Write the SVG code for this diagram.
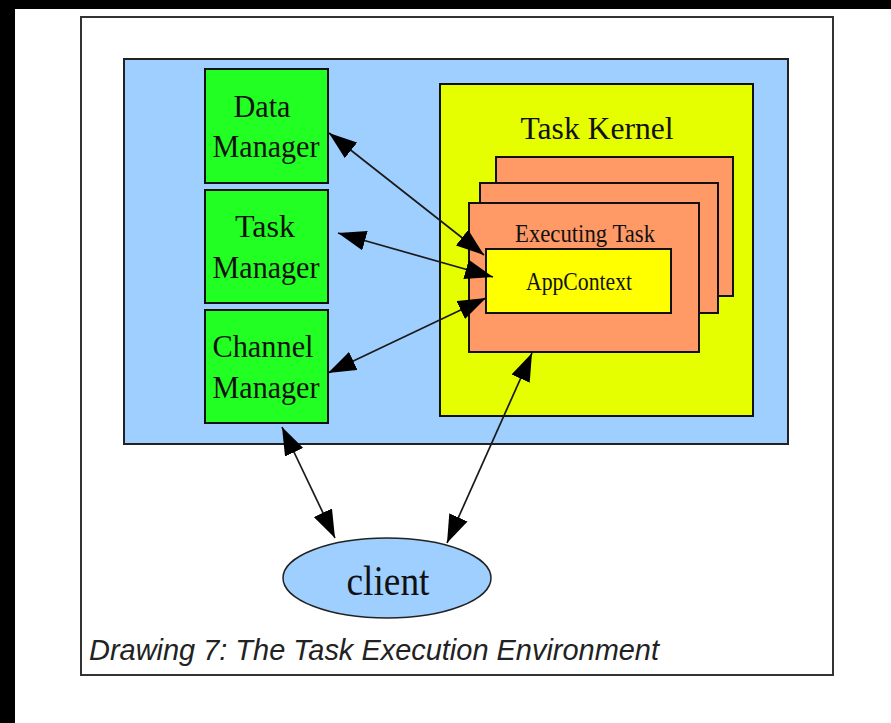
<svg xmlns="http://www.w3.org/2000/svg" width="891" height="723" viewBox="0 0 891 723">
  <style>
    .lbl { font-family: "Liberation Serif", "Times New Roman", serif; fill: #111; text-anchor: middle; }
    .box { stroke: #111; stroke-width: 2; }
    .mgr { fill: #22ff22; }
    .card { fill: #ff9966; }
    .link { stroke: #1a1a1a; stroke-width: 1.7; fill: none; marker-start: url(#head); marker-end: url(#head); }
  </style>
  <defs>
    <marker id="head" markerUnits="userSpaceOnUse" markerWidth="28" markerHeight="20" viewBox="0 0 28 20" refX="28" refY="10" orient="auto-start-reverse">
      <path d="M0,0 L28,10 L0,20 Z" fill="#000"/>
    </marker>
  </defs>

  <!-- page background with dark edges -->
  <rect x="0" y="0" width="891" height="723" fill="#fff"/>
  <rect x="0" y="0" width="891" height="9" fill="#000"/>
  <rect x="0" y="0" width="15" height="723" fill="#000"/>

  <!-- drawing frame -->
  <rect x="81" y="17" width="752" height="658" fill="#fff" stroke="#333" stroke-width="2"/>

  <!-- environment container -->
  <g id="environment">
    <rect x="124" y="59" width="664" height="385" fill="#9fcfff" stroke="#222" stroke-width="2"/>
  </g>

  <g id="data-manager">
    <rect class="box mgr" x="205" y="69" width="123" height="114"/>
    <text class="lbl" x="262" y="117" font-size="32" textLength="57" lengthAdjust="spacingAndGlyphs">Data</text>
    <text class="lbl" x="266" y="157" font-size="32" textLength="107" lengthAdjust="spacingAndGlyphs">Manager</text>
  </g>

  <g id="task-manager">
    <rect class="box mgr" x="205" y="190" width="123" height="113"/>
    <text class="lbl" x="265" y="237" font-size="32" textLength="60" lengthAdjust="spacingAndGlyphs">Task</text>
    <text class="lbl" x="266" y="278" font-size="32" textLength="107" lengthAdjust="spacingAndGlyphs">Manager</text>
  </g>

  <g id="channel-manager">
    <rect class="box mgr" x="205" y="310" width="123" height="113"/>
    <text class="lbl" x="263" y="357" font-size="32" textLength="101" lengthAdjust="spacingAndGlyphs">Channel</text>
    <text class="lbl" x="266" y="398" font-size="32" textLength="107" lengthAdjust="spacingAndGlyphs">Manager</text>
  </g>

  <g id="task-kernel">
    <rect class="box" x="440" y="84" width="313" height="332" fill="#e6ff00"/>
    <text class="lbl" x="597" y="139" font-size="32" textLength="153" lengthAdjust="spacingAndGlyphs">Task Kernel</text>
  </g>

  <g id="executing-task">
    <rect class="box card" x="496" y="157" width="237" height="139"/>
    <rect class="box card" x="480" y="183" width="238" height="130"/>
    <rect class="box card" x="469" y="203" width="230" height="149"/>
    <text class="lbl" x="585" y="242" font-size="25" textLength="140" lengthAdjust="spacingAndGlyphs">Executing Task</text>
  </g>

  <g id="app-context">
    <rect class="box" x="486" y="249" width="185" height="64" fill="#ffff00"/>
    <text class="lbl" x="579" y="290" font-size="25" textLength="106" lengthAdjust="spacingAndGlyphs">AppContext</text>
  </g>

  <g id="client">
    <ellipse cx="387" cy="578" rx="104" ry="40" fill="#9fcfff" stroke="#222" stroke-width="1.5"/>
    <text class="lbl" x="388" y="595" font-size="43" textLength="83" lengthAdjust="spacingAndGlyphs">client</text>
  </g>

  <!-- connectors -->
  <g id="connectors">
    <line class="link" x1="329" y1="133" x2="484" y2="255"/>
    <line class="link" x1="338" y1="233" x2="493" y2="277"/>
    <line class="link" x1="328" y1="373" x2="486" y2="298"/>
    <line class="link" x1="282" y1="427" x2="335" y2="538"/>
    <line class="link" x1="532" y1="353" x2="447" y2="543"/>
  </g>

  <text x="89" y="660" font-family="'Liberation Sans', Arial, sans-serif" font-style="italic" font-size="29" fill="#222" textLength="570" lengthAdjust="spacingAndGlyphs">Drawing 7: The Task Execution Environment</text>
</svg>
